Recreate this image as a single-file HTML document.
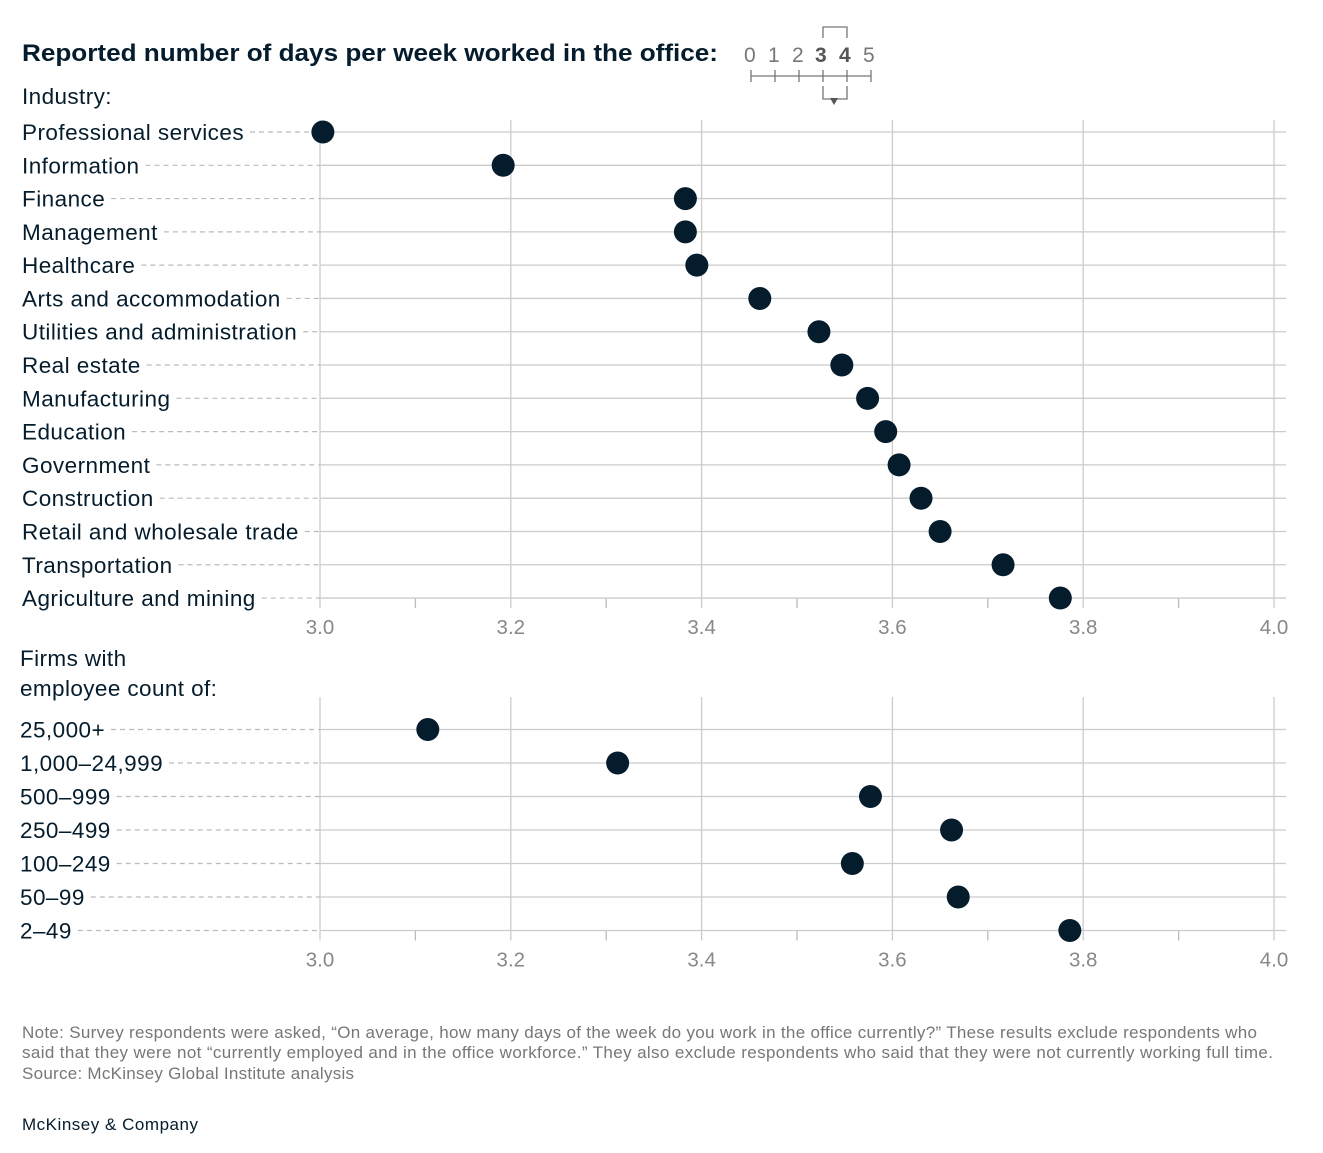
<!DOCTYPE html>
<html><head><meta charset="utf-8"><style>
body{margin:0;background:#fff;font-family:"Liberation Sans",Arial,sans-serif;}
</style></head><body>
<svg width="1323" height="1153" viewBox="0 0 1323 1153" xmlns="http://www.w3.org/2000/svg" style="display:block">
<text x="22" y="61" font-size="24" font-weight="bold" fill="#051c2c" textLength="696" lengthAdjust="spacingAndGlyphs">Reported number of days per week worked in the office:</text>
<g fill="#777" font-size="21">
<text x="744" y="62">0</text><text x="768" y="62">1</text><text x="792" y="62">2</text>
<text x="815" y="62" font-weight="bold" fill="#555">3</text><text x="839" y="62" font-weight="bold" fill="#555">4</text><text x="863" y="62">5</text>
<path d="M751 76H871M751 70V82M775 70V82M799 70V82M823 70V82M847 70V82M871 70V82M823 38V27H847V38M823 86V99H847V86" stroke="#777" stroke-width="1.3" fill="none"/>
<path d="M830 98L838 98L834 105Z" fill="#555"/>
</g>
<text x="22" y="104" font-size="22.5" letter-spacing="0.4" fill="#051c2c">Industry:</text>
<g id="top"></g>
<text x="20" y="666" font-size="22.5" letter-spacing="0.4" fill="#051c2c">Firms with</text>
<text x="20" y="696" font-size="22.5" letter-spacing="0.4" fill="#051c2c">employee count of:</text>
<g id="bot"></g>
<g font-size="17" fill="#777" lengthAdjust="spacingAndGlyphs">
<text x="22" y="1038" textLength="1235">Note: Survey respondents were asked, “On average, how many days of the week do you work in the office currently?” These results exclude respondents who</text>
<text x="22" y="1058" textLength="1251">said that they were not “currently employed and in the office workforce.” They also exclude respondents who said that they were not currently working full time.</text>
<text x="22" y="1079" textLength="332">Source: McKinsey Global Institute analysis</text>
</g>
<text x="22" y="1130" font-size="17" fill="#051c2c" textLength="176">McKinsey &amp; Company</text>
</svg>
<script>
const industries=["Professional services","Information","Finance","Management","Healthcare","Arts and accommodation","Utilities and administration","Real estate","Manufacturing","Education","Government","Construction","Retail and wholesale trade","Transportation","Agriculture and mining"];
const industryValues=[3.003,3.192,3.383,3.383,3.395,3.461,3.523,3.547,3.574,3.593,3.607,3.630,3.650,3.716,3.776];
const firmSizes=["25,000+","1,000–24,999","500–999","250–499","100–249","50–99","2–49"];
const firmValues=[3.113,3.312,3.577,3.662,3.558,3.669,3.786];
const tickLabels=["3.0","3.2","3.4","3.6","3.8","4.0"];
const NS="http://www.w3.org/2000/svg";
const xS=v=>320+(v-3)*954;
function mk(p,t,a){const e=document.createElementNS(NS,t);for(const k in a)e.setAttribute(k,a[k]);p.appendChild(e);return e;}
function panel(g,cats,vals,y0,step,gridTop,labelX,prefix){
  const yLast=y0+step*(cats.length-1);
  for(let i=0;i<=10;i++){const x=xS(3+i*0.1);
    if(i%2===0){const l=mk(g,'line',{x1:x,x2:x,y1:gridTop,y2:yLast+10,stroke:'#ccc','stroke-width':1.3});
      
      }
    else{const l=mk(g,'line',{x1:x,x2:x,y1:yLast,y2:yLast+10,stroke:'#bbb','stroke-width':1.3});
      
      }
  }
  tickLabels.forEach((t,i)=>{const e=mk(g,'text',{x:xS(+t),y:yLast+36,'text-anchor':'middle','font-size':20.5,fill:'#888'});e.textContent=t;
    
    });
  cats.forEach((c,i)=>{const y=y0+i*step;
    const t=mk(g,'text',{x:labelX,y:y+8,'font-size':22.5,'letter-spacing':0.45,fill:'#051c2c'});t.textContent=c;
    
    
    const w=t.getComputedTextLength();
    const d=mk(g,'line',{x1:labelX+w+6,x2:320,y1:y,y2:y,stroke:'#bbb','stroke-width':1.2,'stroke-dasharray':'5,4'});
    
    
    const h=mk(g,'line',{x1:320,x2:1286,y1:y,y2:y,stroke:'#ccc','stroke-width':1.3});
    
    
  });
  vals.forEach((v,i)=>{const c=mk(g,'circle',{cx:xS(v),cy:y0+i*step,r:11.5,fill:'#051c2c'});
    
    });
}
panel(document.getElementById('top'),industries,industryValues,132,33.29,120,22,'industry');
panel(document.getElementById('bot'),firmSizes,firmValues,729.5,33.5,697,20,'firm-size');
</script>
</body></html>
